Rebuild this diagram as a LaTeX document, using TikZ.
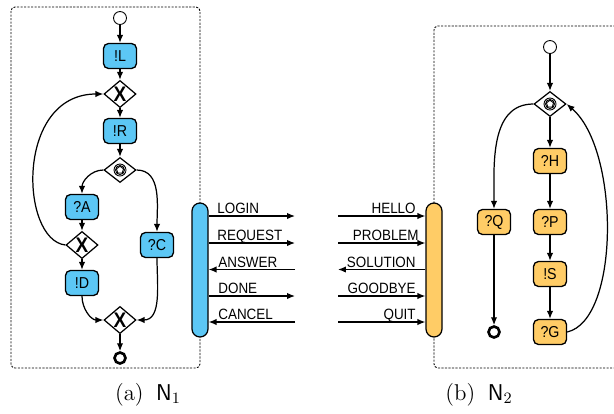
\documentclass[tikz,border=0pt]{standalone}
\usepackage{fontspec}
\usetikzlibrary{shapes.geometric,arrows.meta}
\newfontfamily\bpmnfont[FakeStretch=0.9]{Liberation Sans}
\definecolor{sendblue}{RGB}{92,199,245}
\definecolor{recvorange}{RGB}{255,204,102}

\begin{document}
\begin{tikzpicture}[
    x=0.02cm, y=-0.02cm,
    >={Latex[length=4.5pt,width=3.6pt]},
    flow/.style={->, line width=0.7pt},
    task/.style={draw, line width=0.75pt, rounded corners=0.1cm, minimum width=0.66cm, minimum height=0.5cm, inner sep=0pt, font=\bpmnfont\fontsize{9}{10}\selectfont},
    bluetask/.style={task, fill=sendblue},
    orangetask/.style={task, fill=recvorange},
    gate/.style={draw, diamond, fill=white, line width=0.7pt, minimum width=0.64cm, minimum height=0.5cm, inner sep=0pt},
    xorgate/.style={gate, font=\bpmnfont\fontsize{12}{12}\bfseries\selectfont},
    evgate/.style={gate, path picture={
        \draw[line width=0.5pt] (path picture bounding box.center) circle (0.12cm) circle (0.09cm);
        \node[draw, line width=0.5pt, regular polygon, regular polygon sides=5, minimum size=0.15cm, inner sep=0pt] at (path picture bounding box.center) {};}},
    startev/.style={draw, circle, minimum size=0.26cm, inner sep=0pt, line width=0.5pt},
    endev/.style={draw, circle, minimum size=0.22cm, inner sep=0pt, line width=1.5pt},
    portbar/.style={draw, line width=0.7pt, rounded corners=0.16cm, minimum width=0.32cm, minimum height=2.68cm},
    peerbox/.style={dash pattern=on 1.2pt off 0.8pt, line width=0.5pt, rounded corners=0.08cm},
    msg/.style={font=\bpmnfont\fontsize{8.5}{10}\selectfont, inner sep=0pt},
    subcap/.style={font=\fontsize{13}{15}\selectfont, inner sep=0pt},
    ]
    \useasboundingbox (0,0) rectangle (614,413);
    \clip (0,0) rectangle (614,413);

    % first peer
    \draw[peerbox] (11,7) rectangle (200,368);
    \node[startev] (s1) at (120,18) {};
    \node[bluetask] (L) at (120,56) {!L};
    \node[xorgate] (x1) at (120,94) {X};
    \node[bluetask] (R) at (120,131) {!R};
    \node[evgate] (e1) at (120,170) {};
    \node[bluetask] (A) at (82,207) {?A};
    \node[xorgate] (x2) at (82,245) {X};
    \node[bluetask] (C) at (157,245) {?C};
    \node[bluetask] (D) at (82,283) {!D};
    \node[xorgate] (x3) at (120,320) {X};
    \node[endev] (t1) at (120,358) {};

    \draw[flow] (s1) -- (L);
    \draw[flow] (L) -- (x1);
    \draw[flow] (x1) -- (R);
    \draw[flow] (R) -- (e1);
    \draw[flow] (e1.west) to[out=180,in=90] (A.north);
    \draw[flow] (e1.east) to[out=0,in=90] (C.north);
    \draw[flow] (A) -- (x2);
    \draw[flow] (x2) -- (D);
    \draw[flow] (x2.west) .. controls (20,240) and (15,94) .. (x1.west);
    \draw[flow] (D.south) to[out=-90,in=180] (x3.west);
    \draw[flow] (C.south) to[out=-90,in=0] (x3.east);
    \draw[flow] (x3) -- (t1);

    % second peer
    \draw[peerbox] (640,26) -- (434,26) -- (434,368) -- (640,368);
    \node[startev] (s2) at (550,47) {};
    \node[evgate] (e2) at (550,104) {};
    \node[orangetask] (H) at (550,161) {?H};
    \node[orangetask] (P) at (550,222) {?P};
    \node[orangetask] (S) at (550,274) {!S};
    \node[orangetask] (G) at (550,332) {?G};
    \node[orangetask] (Q) at (494,222) {?Q};
    \node[endev] (t2) at (494,332) {};

    \draw[flow] (s2) -- (e2);
    \draw[flow] (e2) -- (H);
    \draw[flow] (H) -- (P);
    \draw[flow] (P) -- (S);
    \draw[flow] (S) -- (G);
    \draw[flow] (e2.west) to[out=180,in=90] (Q.north);
    \draw[flow] (Q) -- (t2);
    \draw[flow] (G.east) .. controls (620,320) and (620,150) .. (e2.east);

    % ports and messages
    \node[portbar, fill=sendblue] (portL) at (200,270) {};
    \node[portbar, fill=recvorange] (portR) at (434,270) {};

    \coordinate (mL1) at (295,216);
    \coordinate (mL2) at (295,243);
    \coordinate (mL3) at (295,269.5);
    \coordinate (mL4) at (295,296);
    \coordinate (mL5) at (295,322);
    \coordinate (mR1) at (338,216);
    \coordinate (mR2) at (338,243);
    \coordinate (mR3) at (338,269.5);
    \coordinate (mR4) at (338,296);
    \coordinate (mR5) at (338,322);

    \draw[flow] (portL.east |- mL1) -- (mL1);
    \draw[flow] (portL.east |- mL2) -- (mL2);
    \draw[flow] (mL3) -- (portL.east |- mL3);
    \draw[flow] (portL.east |- mL4) -- (mL4);
    \draw[flow] (mL5) -- (portL.east |- mL5);
    \draw[flow] (mR1) -- (portR.west |- mR1);
    \draw[flow] (mR2) -- (portR.west |- mR2);
    \draw[flow] (portR.west |- mR3) -- (mR3);
    \draw[flow] (mR4) -- (portR.west |- mR4);
    \draw[flow] (mR5) -- (portR.west |- mR5);

    \node[msg, anchor=base west] (login) at (217,213.5) {LOGIN};
    \node[msg, anchor=base west] (request) at (217,240.5) {REQUEST};
    \node[msg, anchor=base west] (answer) at (218,267) {ANSWER};
    \node[msg, anchor=base west] (done) at (218,293.5) {DONE};
    \node[msg, anchor=base west] (cancel) at (218,319.5) {CANCEL};
    \node[msg, anchor=base east] (hello) at (416,213.5) {HELLO};
    \node[msg, anchor=base east] (problem) at (419,240.5) {PROBLEM};
    \node[msg, anchor=base east] (solution) at (416,267) {SOLUTION};
    \node[msg, anchor=base east] (goodbye) at (416,293.5) {GOODBYE};
    \node[msg, anchor=base east] (quit) at (416,319.5) {QUIT};

    \node[subcap] (capa) at (148,395) {(a)\hspace{0.55em}\textsf{N}$_1$};
    \node[subcap] (capb) at (479,395) {(b)\hspace{0.55em}\textsf{N}$_2$};
\end{tikzpicture}
\end{document}
